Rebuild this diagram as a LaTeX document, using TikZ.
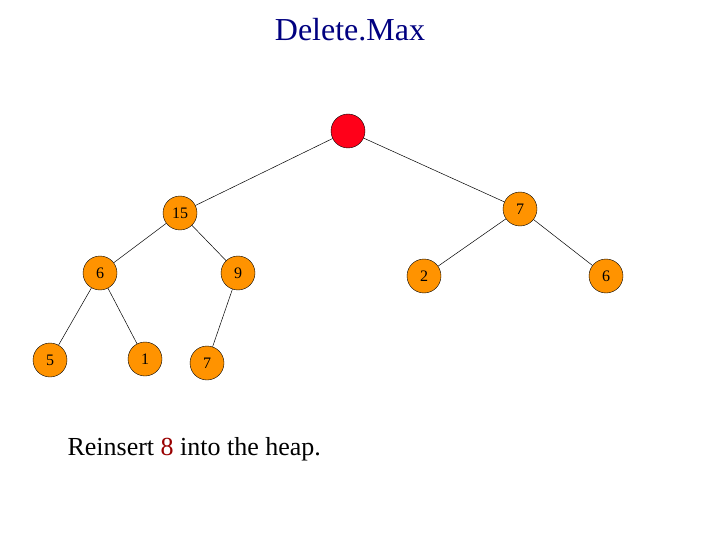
\documentclass[tikz,border=0pt]{standalone}
\usepackage{fontspec}
\setmainfont{Liberation Serif}
\begin{document}
\begin{tikzpicture}[x=1pt,y=-1pt,
  hn/.style={circle,draw=black,fill=orange!85!yellow,minimum size=34pt,inner sep=0pt,font=\fontsize{16}{18}\selectfont},
  rn/.style={circle,draw=black,fill=red!90!magenta,minimum size=34pt,inner sep=0pt},
  ed/.style={draw=black,line width=0.5pt}]
\useasboundingbox (0,0) rectangle (720,540);
\node[text=blue!50!black,font=\fontsize{32}{36}\selectfont] (t) at (350,30) {Delete.Max};
\node[rn] (r) at (348,131) {};
\node[hn] (a) at (180,213) {15};
\node[hn] (b) at (520,209) {7};
\node[hn] (c) at (100,273) {6};
\node[hn] (d) at (238,273) {9};
\node[hn] (e) at (424,276) {2};
\node[hn] (f) at (606,276) {6};
\node[hn] (g) at (50,360) {5};
\node[hn] (h) at (145,359) {1};
\node[hn] (i) at (207,363) {7};
\draw[ed] (r)--(a); \draw[ed] (r)--(b);
\draw[ed] (a)--(c); \draw[ed] (a)--(d);
\draw[ed] (c)--(g); \draw[ed] (c)--(h);
\draw[ed] (d)--(i);
\draw[ed] (b)--(e); \draw[ed] (b)--(f);
\node[anchor=west,font=\fontsize{26}{30}\selectfont] (s) at (64,449) {Reinsert \textcolor{red!60!black}{8} into the heap.};
\end{tikzpicture}
\end{document}
